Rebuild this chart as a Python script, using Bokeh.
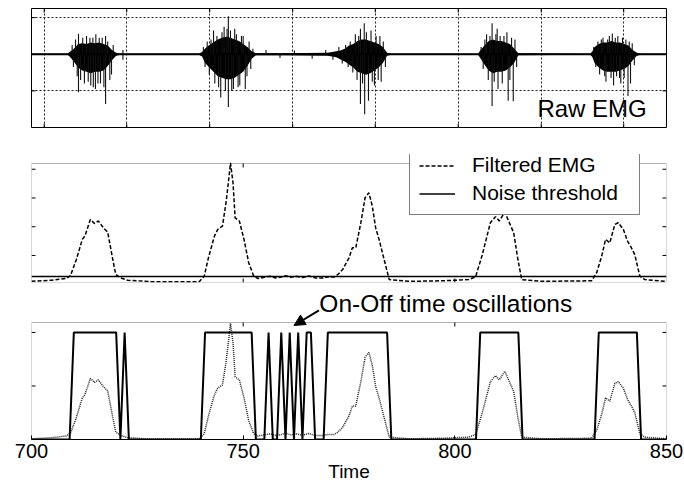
from bokeh.plotting import figure
from bokeh.layouts import column
from bokeh.models import (Range1d, FixedTicker, Grid, Legend, LegendItem,
                          Label, Arrow, NormalHead, BoxAnnotation)
from bokeh.embed import file_html
from bokeh.resources import INLINE

FONT = "Liberation Sans"
T_MIN, T_MAX = 700, 850
TIME_TICKS = [700, 750, 800, 850]
INNER_TIME_TICKS = [750, 800]

# ---------------- Raw EMG (envelope of dense bursts + individual spikes) -----
RAW_T = [700, 708.5, 709, 710, 711, 712, 713, 714, 715, 716, 717, 718, 719, 720, 721,
         739.5, 740.3, 741, 742, 743, 744, 745, 746, 747, 748, 749, 750, 751, 752, 753,
         760, 770, 772, 773, 774, 775, 776, 777, 778, 779, 780, 781, 782, 783, 784, 785,
         805.5, 806, 807, 808, 809, 810, 811, 812, 813, 814, 815,
         832, 832.5, 833, 834, 835, 836, 837, 838, 839, 840, 841, 842, 843, 844, 850]
RAW_UP = [0.015, 0.015, 0.06, 0.15, 0.28, 0.3, 0.28, 0.32, 0.3, 0.32, 0.28, 0.24, 0.12, 0.04, 0.015,
          0.015, 0.06, 0.16, 0.25, 0.33, 0.4, 0.45, 0.48, 0.45, 0.4, 0.36, 0.28, 0.2, 0.08, 0.03,
          0.03, 0.04, 0.08, 0.1, 0.15, 0.24, 0.28, 0.36, 0.4, 0.4, 0.36, 0.32, 0.28, 0.2, 0.04, 0.015,
          0.015, 0.1, 0.24, 0.36, 0.4, 0.36, 0.36, 0.32, 0.28, 0.16, 0.03,
          0.015, 0.08, 0.2, 0.28, 0.32, 0.32, 0.36, 0.32, 0.32, 0.28, 0.24, 0.12, 0.04, 0.015, 0.015]
RAW_LO = [-0.015, -0.015, -0.06, -0.2, -0.36, -0.44, -0.48, -0.52, -0.48, -0.48, -0.44, -0.32, -0.16, -0.04, -0.015,
          -0.015, -0.06, -0.24, -0.36, -0.48, -0.6, -0.64, -0.68, -0.68, -0.64, -0.56, -0.48, -0.32, -0.12, -0.03,
          -0.03, -0.04, -0.08, -0.14, -0.2, -0.28, -0.36, -0.48, -0.52, -0.56, -0.52, -0.44, -0.36, -0.24, -0.04, -0.015,
          -0.015, -0.1, -0.28, -0.44, -0.52, -0.48, -0.48, -0.44, -0.36, -0.24, -0.03,
          -0.015, -0.08, -0.24, -0.36, -0.44, -0.48, -0.48, -0.48, -0.44, -0.4, -0.32, -0.16, -0.04, -0.015, -0.015]
SPIKE_T = [709.6, 709.9, 710.4, 710.8, 711.1, 711.1, 711.6, 712.1, 712.5, 713.0, 713.4, 713.8, 714.0,
           714.5, 714.6, 715.1, 715.2, 715.7, 716.0, 716.3, 716.7, 717.1, 717.5, 717.5, 718.0, 718.5,
           718.9, 719.3, 721.6, 721.6,
           740.6, 741.0, 741.5, 742.0, 742.4, 743.0, 743.3, 743.8, 744.2, 744.7, 745.0, 745.5, 745.8,
           746.2, 746.5, 746.5, 747.0, 747.3, 747.7, 748.0, 748.4, 748.8, 749.2, 749.6, 750.0, 750.5,
           750.9, 751.4, 751.8, 752.3, 755.4, 758.7, 762.1, 766.3, 769.5, 771.2,
           772.6, 773.4, 774.2, 774.8, 775.3, 775.9, 776.5, 776.9, 777.3, 777.7, 777.7, 778.2, 778.6,
           778.7, 779.1, 779.6, 780.2, 780.5, 781.0, 781.4, 781.9, 782.3, 782.6, 783.1, 783.6,
           806.2, 806.7, 807.1, 807.5, 807.9, 808.3, 808.8, 808.8, 809.3, 809.7, 810.0, 810.2, 810.7,
           811.2, 811.6, 812.3, 812.6, 813.0, 813.4, 813.8, 814.2, 814.6,
           832.8, 833.3, 833.8, 834.2, 834.6, 835.0, 835.4, 835.7, 836.1, 836.5, 836.9, 837.2, 837.5,
           837.9, 838.2, 838.5, 838.9, 839.2, 839.6, 840.0, 840.4, 840.9, 841.2, 841.5, 841.9, 842.4]
SPIKE_V = [0.25, -0.35, 0.4, -0.6, 0.56, -1.04, -0.7, 0.45, -0.8, 0.5, -0.75, 0.45, -0.85,
           0.45, -0.9, -0.95, 0.55, -0.8, 0.45, -0.8, 0.45, -0.9, 0.5, -1.36, 0.35, -0.7,
           -0.55, 0.25, 0.12, -0.15,
           0.2, -0.35, 0.35, -0.55, 0.4, 0.65, -0.8, 0.5, -0.9, -1.18, 0.6, 0.75, -1.0,
           0.7, 1.04, -1.44, 0.65, -1.0, -0.95, 0.7, 0.55, -0.9, -0.85, 0.5, 0.5, -0.95,
           -0.6, 0.35, -0.4, 0.15, 0.12, -0.1, 0.1, -0.12, 0.12, -0.15,
           0.2, -0.25, 0.25, -0.35, 0.35, -0.5, 0.55, -0.7, 0.5, 0.7, -1.36, -0.8, 0.85,
           -1.64, 0.6, -1.27, 0.65, -0.75, -0.85, 0.5, -0.7, 0.5, -0.75, 0.35, -0.35,
           0.2, -0.4, 0.4, 0.55, -0.7, 0.5, 0.85, -1.41, -0.75, 0.55, 0.7, -0.95, 0.5,
           -0.8, 0.5, 0.6, -1.27, -0.7, 0.45, -1.28, 0.4, -0.35,
           0.2, -0.35, 0.35, -0.55, 0.4, 0.45, -0.6, -0.75, 0.4, 0.5, -0.65, 0.57, -0.85,
           0.45, -0.6, 0.5, -0.65, -0.8, 0.45, -0.65, 0.4, -1.14, 0.35, -0.8, 0.3, -0.3]
RAW_GRID_T = [703.0, 722.5, 742.1, 761.7, 781.2, 800.8, 820.4, 839.9]
RAW_GRID_V = [-2, -1, 0, 1]
RAW_Y = (-2, 1.25)

# ---------------- Filtered EMG ------------------------------------------------
FILT_T = [700.0, 704.7, 708.2, 709.2, 710.6, 712.0, 712.6, 713.9, 714.9, 715.8, 717.0, 718.0,
          719.2, 719.9, 721.1, 722.7, 728.2, 739.6, 740.8, 741.8, 743.2, 744.0, 745.1, 745.9,
          746.5, 747.0, 747.6, 748.1, 749.1, 750.2, 751.3, 752.5, 753.5, 755.0, 756.4, 757.5,
          759.0, 760.0, 761.3, 762.5, 764.0, 765.5, 767.0, 768.9, 770.2, 771.5, 772.3, 773.5,
          775.0, 775.8, 776.6, 777.8, 778.8, 779.7, 780.5, 781.3, 782.1, 783.3, 784.5, 789.2,
          797.0, 803.3, 804.9, 806.4, 808.4, 809.6, 810.5, 811.8, 812.7, 813.9, 814.9, 815.8,
          820.5, 832.3, 833.5, 834.7, 835.6, 836.6, 837.8, 838.6, 839.8, 840.8, 841.7, 842.5,
          843.7, 844.9, 850.0]
FILT_V = [0.10, 0.14, 0.20, 0.30, 0.86, 1.56, 1.67, 2.25, 2.11, 2.20, 1.96, 1.81,
          0.86, 0.34, 0.22, 0.14, 0.09, 0.09, 0.28, 0.92, 1.67, 1.91, 2.02, 2.78,
          3.53, 4.22, 3.53, 2.31, 2.20, 1.56, 0.75, 0.28, 0.20, 0.24, 0.28, 0.22,
          0.25, 0.30, 0.24, 0.28, 0.23, 0.29, 0.22, 0.22, 0.26, 0.25, 0.33, 0.51,
          0.92, 1.27, 1.27, 2.14, 3.01, 3.18, 2.72, 1.96, 1.56, 0.86, 0.16, 0.10,
          0.12, 0.16, 0.26, 0.98, 2.14, 2.35, 2.20, 2.51, 2.20, 1.79, 0.86, 0.16,
          0.10, 0.12, 0.40, 0.98, 1.56, 1.44, 2.08, 2.14, 1.91, 1.50, 1.27, 1.03,
          0.28, 0.16, 0.10]
NOISE_THRESHOLD = 0.27
FILT_TICKS = [1, 2, 3, 4]
FILT_Y = (0.06, 4.2)
DOT_OFFSET, DOT_SCALE = 0.076, 0.262   # filtered EMG normalised for bottom panel

# ---------------- On/Off detection -------------------------------------------
ONOFF_T = [700, 709, 710, 720, 721, 722, 723, 740, 741, 752, 753, 755, 756, 757, 758, 759,
           760, 761, 762, 763, 764, 765, 766, 767, 769, 770, 784, 785, 805, 806, 815, 816,
           833, 834, 843, 844, 850]
ONOFF_V = [0, 0, 1, 1, 0, 1, 0, 0, 1, 1, 0, 0, 1, 0, 0, 1,
           0, 1, 0, 1, 0, 1, 1, 0, 0, 1, 1, 0, 0, 1, 1, 0,
           0, 1, 1, 0, 0]
ONOFF_TICKS = [0.5, 1]
ONOFF_Y = (0, 1.093)
FILT_DOT = [(v - DOT_OFFSET) * DOT_SCALE for v in FILT_V]

PX_PER_T = 635 / (T_MAX - T_MIN)
TICK_PX = 4


def add_ticks(p, xticks, yticks, ylo, yhi, px_per_y, bottom=True):
    dx = TICK_PX / PX_PER_T
    dy = TICK_PX / px_per_y
    kw = dict(line_color="black", line_width=1)
    if xticks:
        p.segment(x0=xticks, y0=[yhi] * len(xticks), x1=xticks, y1=[yhi - dy] * len(xticks), **kw)
        if bottom:
            p.segment(x0=xticks, y0=[ylo] * len(xticks), x1=xticks, y1=[ylo + dy] * len(xticks), **kw)
    if yticks:
        p.segment(x0=[T_MIN] * len(yticks), y0=yticks, x1=[T_MIN + dx] * len(yticks), y1=yticks, **kw)
        p.segment(x0=[T_MAX] * len(yticks), y0=yticks, x1=[T_MAX - dx] * len(yticks), y1=yticks, **kw)


def make_fig(height, yr, top, bottom, x_axis=None):
    p = figure(width=684, height=height, x_range=Range1d(T_MIN, T_MAX), y_range=yr,
               output_backend="svg", toolbar_location=None,
               x_axis_location=x_axis, y_axis_location=None,
               min_border_left=31, min_border_right=18,
               min_border_top=top, min_border_bottom=bottom)
    p.background_fill_color = "white"
    p.border_fill_color = "white"
    p.grid.visible = False
    return p


# ---- top: raw EMG  (frame 119 px high)
p1 = make_fig(145, Range1d(*RAW_Y), 8, 18)
p1.outline_line_color = "black"
p1.outline_line_width = 1
for dim, ticks in ((0, RAW_GRID_T), (1, RAW_GRID_V)):
    p1.add_layout(Grid(dimension=dim, ticker=FixedTicker(ticks=ticks),
                       grid_line_color="#222222", grid_line_dash="2 2", grid_line_width=1))
p1.varea(x=RAW_T, y1=RAW_LO, y2=RAW_UP, fill_color="black")
p1.segment(x0=SPIKE_T, y0=[0] * len(SPIKE_T), x1=SPIKE_T, y1=SPIKE_V,
           line_color="#111111", line_width=1.1)
p1.line([T_MIN, T_MAX], [0, 0], line_color="black", line_width=2)
add_ticks(p1, RAW_GRID_T, [-1, 1], RAW_Y[0], RAW_Y[1], 119 / (RAW_Y[1] - RAW_Y[0]))
p1.add_layout(Label(x=819.5, y=-1.47, text="Raw EMG", text_font=FONT,
                    text_font_size="24px", text_color="black",
                    text_baseline="middle"))

# ---- middle: filtered EMG + noise threshold (frame extended 9 px above box)
py2 = 119 / (FILT_Y[1] - FILT_Y[0])
p2 = make_fig(141, Range1d(FILT_Y[0], FILT_Y[1] + 9 / py2), 9, 4)
p2.outline_line_color = None
p2.add_layout(BoxAnnotation(left=T_MIN, right=T_MAX, bottom=FILT_Y[0], top=FILT_Y[1],
                            fill_alpha=0, line_color="black", line_width=1))
r_th = p2.line([T_MIN, T_MAX], [NOISE_THRESHOLD, NOISE_THRESHOLD],
               line_color="black", line_width=1.6)
r_f = p2.line(FILT_T, FILT_V, line_color="black", line_width=1.5, line_dash="4 2")
add_ticks(p2, INNER_TIME_TICKS, FILT_TICKS, FILT_Y[0], FILT_Y[1], py2)
leg = Legend(items=[LegendItem(label="Filtered EMG", renderers=[r_f]),
                    LegendItem(label="Noise threshold", renderers=[r_th])],
             location=(378, 67))
leg.label_text_font = FONT
leg.label_text_font_size = "21px"
leg.label_text_color = "black"
leg.glyph_width = 36
leg.glyph_height = 19
leg.label_height = 19
leg.label_width = 158
leg.spacing = 4
leg.padding = 9
leg.margin = 0
leg.label_standoff = 17
leg.border_line_color = "black"
leg.border_line_width = 1
leg.background_fill_color = "white"
leg.background_fill_alpha = 1
p2.add_layout(leg)

# ---- bottom: on/off (frame extended 36 px above box for the annotation)
py3 = 117 / (ONOFF_Y[1] - ONOFF_Y[0])
p3 = make_fig(199, Range1d(ONOFF_Y[0], ONOFF_Y[1] + 36 / py3), 0, 46, x_axis="below")
p3.outline_line_color = None
p3.add_layout(BoxAnnotation(left=T_MIN, right=T_MAX, bottom=ONOFF_Y[0], top=ONOFF_Y[1],
                            fill_alpha=0, line_color="black", line_width=1))
p3.line(FILT_T, FILT_DOT, line_color="#222222", line_width=1.5, line_dash="1 1")
p3.line(ONOFF_T, ONOFF_V, line_color="black", line_width=2)
add_ticks(p3, INNER_TIME_TICKS, ONOFF_TICKS, ONOFF_Y[0], ONOFF_Y[1], py3, bottom=False)
xa = p3.xaxis[0]
xa.ticker = FixedTicker(ticks=TIME_TICKS)
xa.major_tick_in = 4
xa.major_tick_out = 0
xa.minor_tick_line_color = None
xa.axis_line_color = "black"
xa.major_label_text_font_size = "20px"
xa.major_label_text_font = FONT
xa.major_label_text_color = "black"
xa.major_label_standoff = 4
xa.axis_label = "Time"
xa.axis_label_text_font = FONT
xa.axis_label_text_font_size = "19px"
xa.axis_label_text_font_style = "normal"
xa.axis_label_text_color = "black"
xa.axis_label_standoff = 0
p3.add_layout(Label(x=768.0, y=1.271, text="On-Off time oscillations", text_font=FONT,
                    text_font_size="24.5px", text_color="black",
                    text_baseline="middle"))
p3.add_layout(Arrow(end=NormalHead(size=11, fill_color="black", line_color="black"),
                    x_start=767.9, y_start=1.206, x_end=762.0, y_end=1.065,
                    line_color="black", line_width=2))

layout = column(p1, p2, p3, spacing=0)
open("out.html", "w").write(file_html(layout, INLINE))
